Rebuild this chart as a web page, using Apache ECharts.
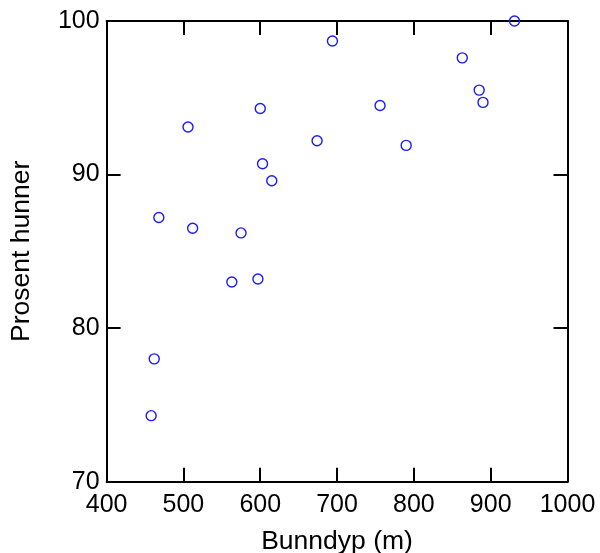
<!DOCTYPE html>
<html><head><meta charset="utf-8">
<script src="https://cdn.jsdelivr.net/npm/echarts@6/dist/echarts.min.js"></script>
<style>html,body{margin:0;padding:0;background:#fff}#c{width:600px;height:553px}</style>
</head><body><div id="c"></div>
<script>
const depth = [458, 462, 468, 506, 512, 563, 575, 597, 600, 603, 615, 674, 694, 756, 790, 863, 885, 890, 931];
const percent = [74.3, 78.0, 87.2, 93.1, 86.5, 83.0, 86.2, 83.2, 94.3, 90.7, 89.6, 92.2, 98.7, 94.5, 91.9, 97.6, 95.5, 94.7, 100.0];
const xTicks = [400, 500, 600, 700, 800, 900, 1000];
const yTicks = [70, 80, 90, 100];
const xName = 'Bunndyp (m)';
const yName = 'Prosent hunner';

const font = 'Liberation Sans, Arial, Helvetica, sans-serif';
const fs = 25;
const nfs = 26.5;
const lineStyle = { color: '#000', width: 2 };
const tick = { show: true, inside: true, length: 14, lineStyle: { color: '#000', width: 2 } };

const chart = echarts.init(document.getElementById('c'), null, { renderer: 'canvas' });
chart.setOption({
  animation: false,
  grid: { left: 106.6, right: 32.5, top: 21, bottom: 71.3, containLabel: false, outerBoundsMode: 'none' },
  xAxis: [
    { type: 'value', min: xTicks[0], max: xTicks[xTicks.length - 1], interval: 100, position: 'bottom',
      name: xName, nameLocation: 'middle', nameGap: 46,
      nameTextStyle: { fontFamily: font, fontSize: nfs, color: '#000' },
      axisLine: { show: true, onZero: false, lineStyle: lineStyle }, axisTick: tick,
      axisLabel: { fontFamily: font, fontSize: fs, color: '#000', margin: 11, formatter: v => String(v) },
      splitLine: { show: false } },
    { type: 'value', min: xTicks[0], max: xTicks[xTicks.length - 1], interval: 100, position: 'top',
      axisLine: { show: true, onZero: false, lineStyle: lineStyle }, axisTick: tick,
      axisLabel: { show: false }, splitLine: { show: false } }
  ],
  yAxis: [
    { type: 'value', min: yTicks[0], max: yTicks[yTicks.length - 1], interval: 10, position: 'left',
      name: yName, nameLocation: 'middle', nameGap: 71, nameRotate: 90,
      nameTextStyle: { fontFamily: font, fontSize: nfs, color: '#000' },
      axisLine: { show: true, onZero: false, lineStyle: lineStyle }, axisTick: tick,
      axisLabel: { fontFamily: font, fontSize: fs, color: '#000', margin: 7, formatter: v => String(v) },
      splitLine: { show: false } },
    { type: 'value', min: yTicks[0], max: yTicks[yTicks.length - 1], interval: 10, position: 'right',
      axisLine: { show: true, onZero: false, lineStyle: lineStyle }, axisTick: tick,
      axisLabel: { show: false }, splitLine: { show: false } }
  ],
  series: [{
    type: 'scatter',
    data: depth.map((d, i) => [d, percent[i]]),
    symbol: 'circle', symbolSize: 10,
    itemStyle: { color: 'rgba(0,0,0,0)', borderColor: '#1a1aff', borderWidth: 1.4, opacity: 1 },
    clip: false
  }]
});
</script></body></html>
